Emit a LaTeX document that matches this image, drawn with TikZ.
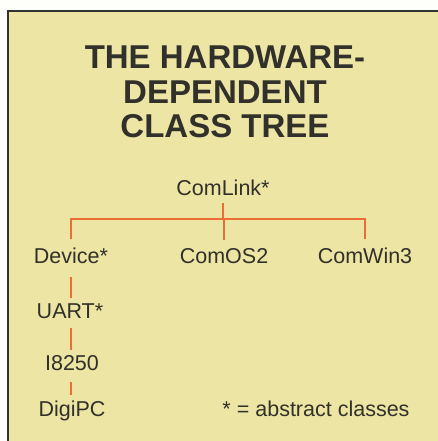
\documentclass[tikz,border=0pt]{standalone}
\usepackage{fontspec}
\setmainfont{Liberation Sans}
\usetikzlibrary{positioning}
\definecolor{paper}{RGB}{237,229,163}
\definecolor{tline}{RGB}{235,110,55}
\definecolor{tink}{RGB}{50,48,42}
\tikzset{
  cls/.style={font=\fontsize{21.5}{24}\selectfont, text=tink, inner sep=0pt, anchor=base},
  ttl/.style={font=\fontsize{33}{34.5}\selectfont\bfseries, text=tink, inner sep=0pt,
              align=center, anchor=north},
  lnk/.style={draw=tline, line width=1.5pt},
  frm/.style={draw=black!80, line width=1.2pt},
}

\begin{document}
\begin{tikzpicture}[x=1pt, y=-1pt]
        \useasboundingbox (0,0) rectangle (438,441);
        \fill[white!96!paper] (0,0) rectangle (438,441);
        \fill[paper] (8,11) rectangle (438,441);
        \draw[frm] (8,441) -- (8,11) -- (438,11);
        \node[ttl] (title) at (225,46) {THE HARDWARE-\\DEPENDENT\\CLASS TREE};
        \node[cls] (comlink) at (223,195) {ComLink*};
        \coordinate (bar) at (0,219);
        \node[cls] (device) at (71,263) {Device*};
        \node[cls] (comos) at (224,263) {ComOS2};
        \node[cls] (comwin) at (365,263) {ComWin3};
        \node[cls] (uart) at (70,318) {UART*};
        \node[cls] (ieight) at (72,370) {I8250};
        \node[cls] (digipc) at (72,416) {DigiPC};
        \node[cls] (note) at (316,416) {* = abstract classes};
        % tree lines
        \draw[lnk, shorten <=8pt] (comlink.south) -- (comlink.south |- bar);
        \draw[lnk, shorten <=8pt, shorten >=8pt] (device.north) -- (device.north |- bar)
          -- (comwin.north |- bar) -- (comwin.north);
        \draw[lnk, shorten >=8pt] (comos.north |- bar) -- (comos.north);
        \draw[lnk, shorten <=14pt, shorten >=5pt] (device.south) -- (device.south |- uart.north);
        \draw[lnk, shorten <=10pt, shorten >=5pt] (uart.south -| device.south) -- (device.south |- ieight.north);
        \draw[lnk, shorten <=12pt, shorten >=5pt] (ieight.south -| device.south) -- (device.south |- digipc.north);
      \end{tikzpicture}
\end{document}
